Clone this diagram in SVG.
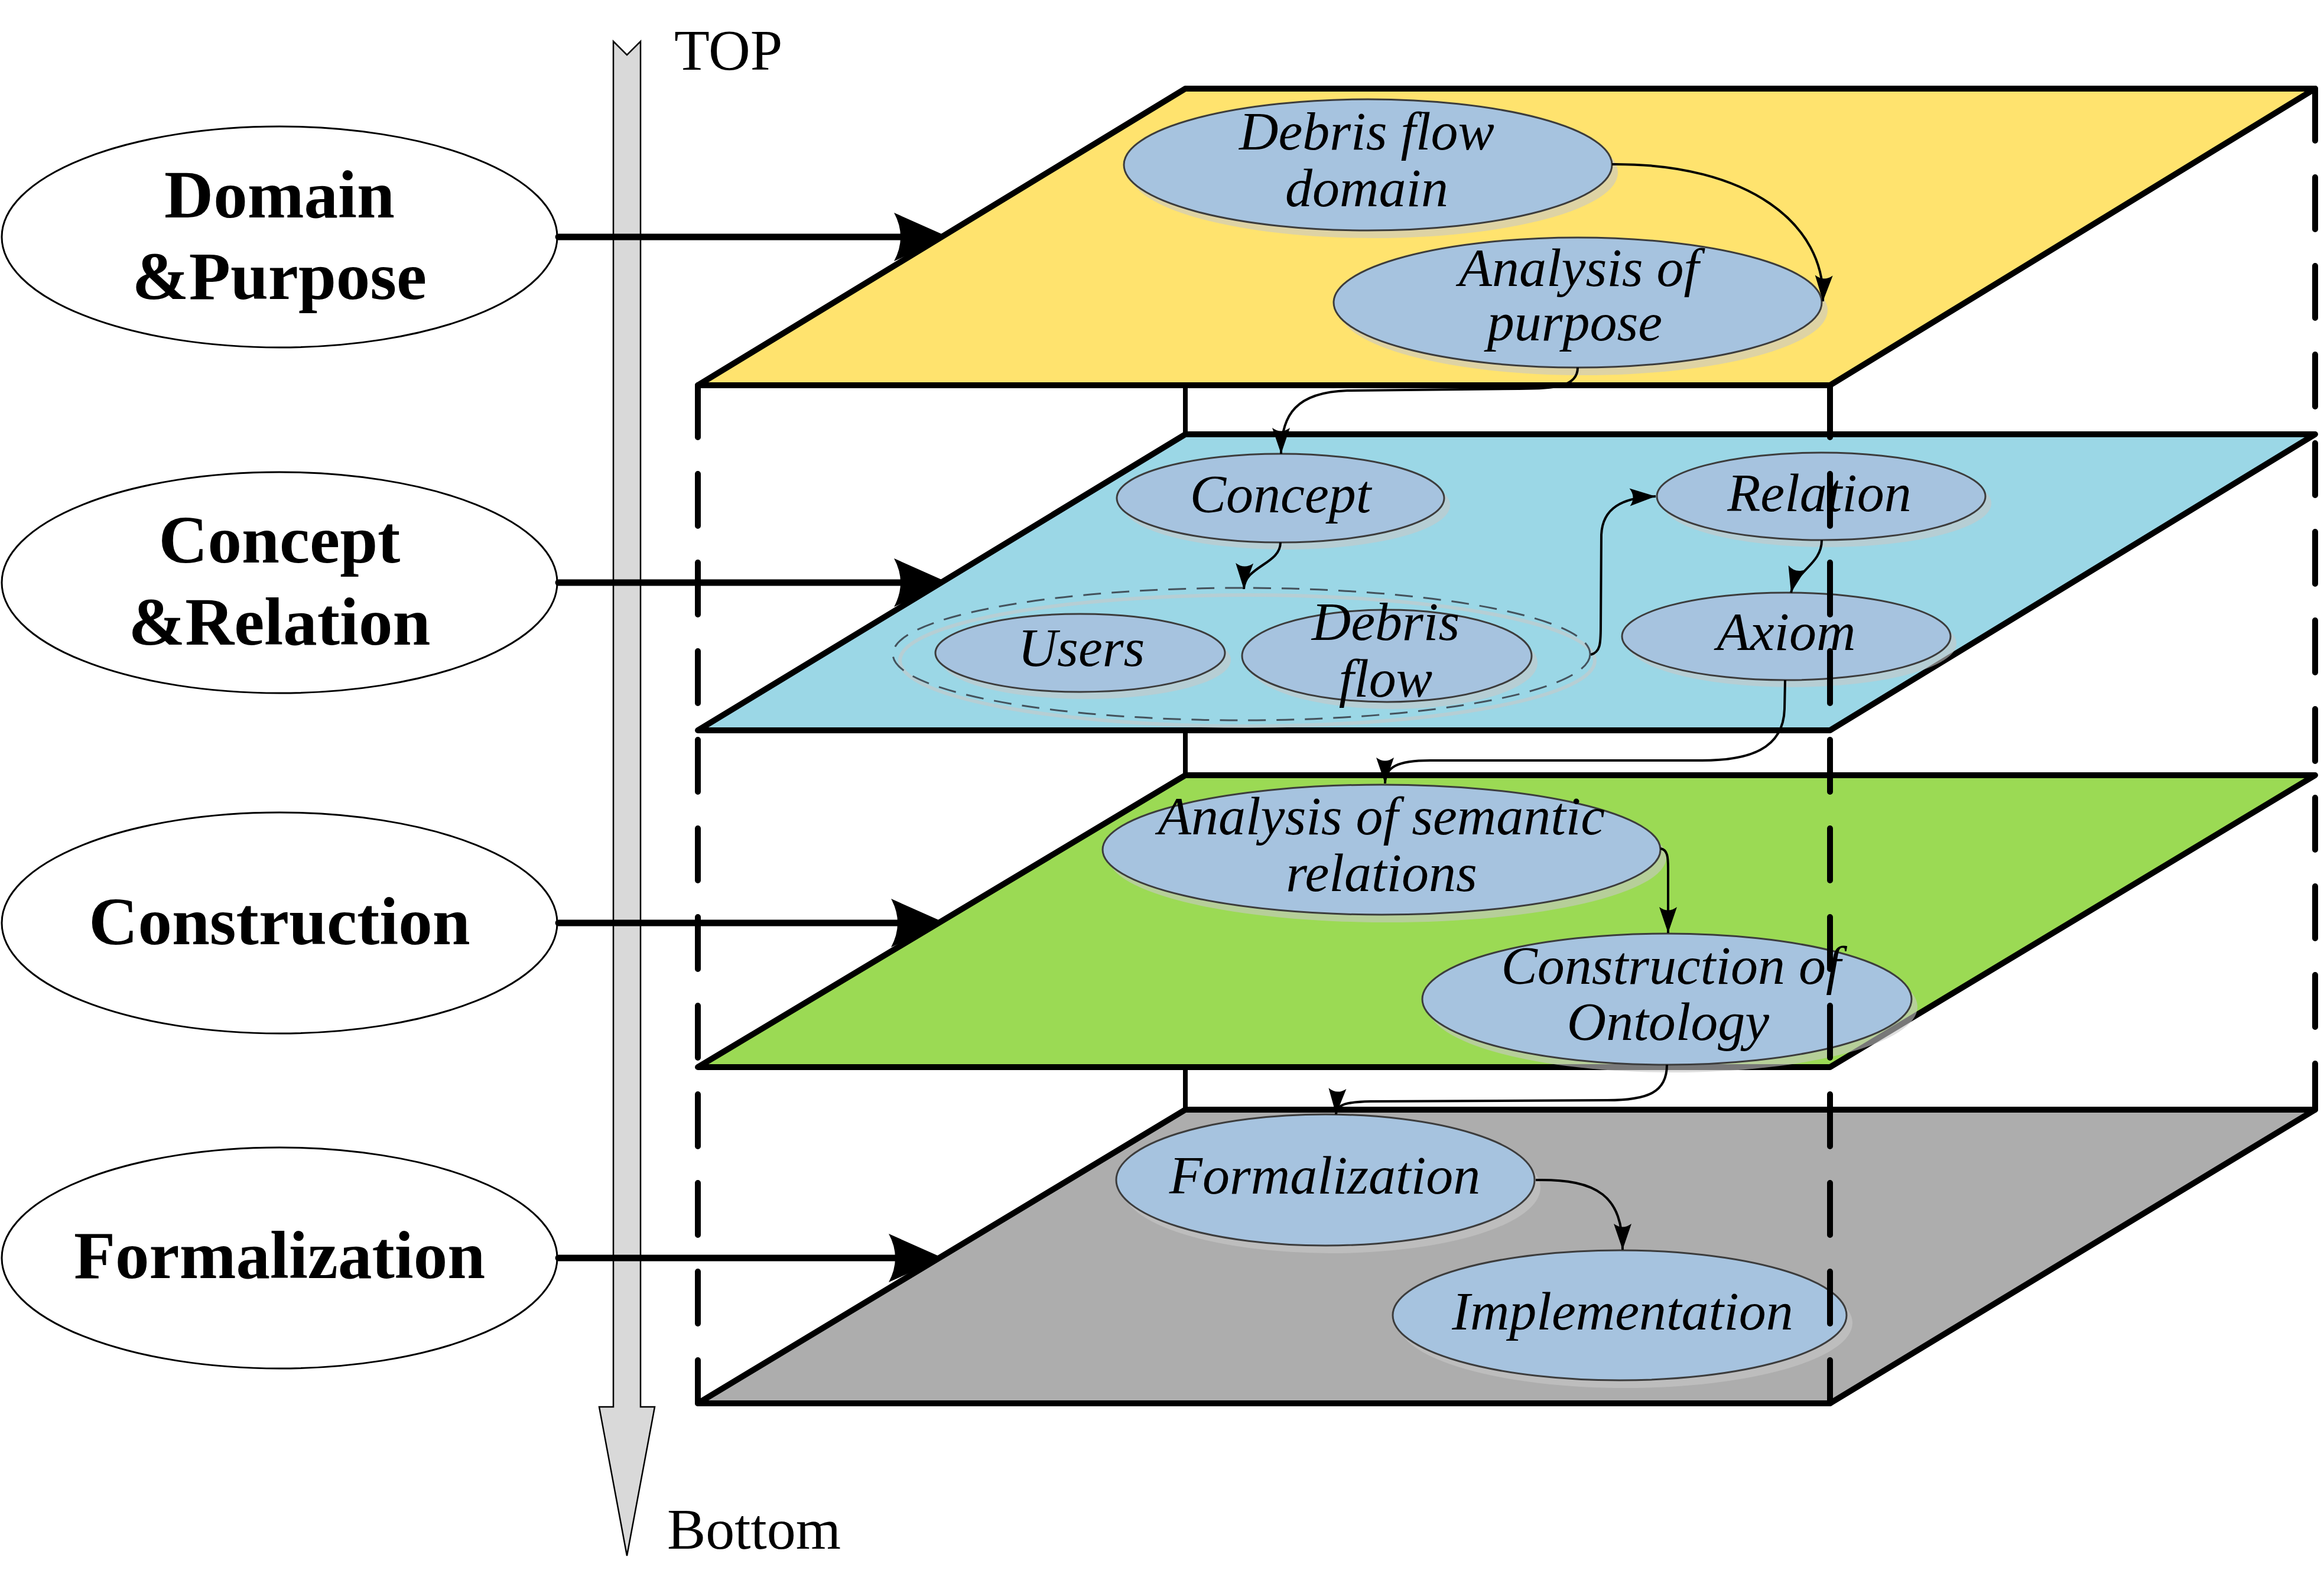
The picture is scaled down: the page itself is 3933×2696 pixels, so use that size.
<svg xmlns="http://www.w3.org/2000/svg" width="3933" height="2696" viewBox="0 0 3933 2696">
<style>
.plane{stroke:#000;stroke-width:10;stroke-linejoin:round}
.node{fill:#A6C3DF;stroke:#3C3C3C;stroke-width:3}
.shadow{fill:#C8C8C8;fill-opacity:0.6}
.nt{font-family:"Liberation Serif","Times New Roman",serif;font-style:italic;font-size:92px;text-anchor:middle;fill:#000}
.lt{font-family:"Liberation Serif","Times New Roman",serif;font-weight:bold;font-size:115px;text-anchor:middle;fill:#000}
.st{font-family:"Liberation Serif","Times New Roman",serif;font-size:98px;fill:#000}
.conn{fill:none;stroke:#000;stroke-width:4;marker-end:url(#ah)}
.dash{fill:none;stroke:#000;stroke-width:10;stroke-dasharray:88 62;stroke-linecap:round}
.big{stroke:#000;stroke-width:11;stroke-linecap:round}
.lell{fill:#fff;stroke:#000;stroke-width:3}
</style>
<defs>
<marker id="ah" viewBox="-46 -17 48 34" refX="0" refY="0" markerWidth="48" markerHeight="34" markerUnits="userSpaceOnUse" orient="auto">
<path d="M0,0 L-44,-15 Q-33,0 -44,15 Z" fill="#000"/>
</marker>
</defs>
<rect width="3933" height="2696" fill="#fff"/>

<!-- scale arrow -->
<g id="scale">
<path d="M1038,70 L1061,93 L1084,70 L1084,2381 L1108,2381 L1061,2633 L1014,2381 L1038,2381 Z" fill="#D9D9D9" stroke="#000" stroke-width="2.5"/>
<text class="st" x="1141" y="118">TOP</text>
<text class="st" x="1129" y="2621">Bottom</text>
</g>

<!-- left stage nodes -->
<g id="stage-domain">
<ellipse class="lell" cx="473" cy="401" rx="470" ry="187"/>
<text class="lt" x="473" y="368">Domain</text>
<text class="lt" x="473" y="506">&amp;Purpose</text>
</g>
<g id="stage-concept">
<ellipse class="lell" cx="473" cy="986" rx="470" ry="187"/>
<text class="lt" x="473" y="952">Concept</text>
<text class="lt" x="473" y="1091">&amp;Relation</text>
</g>
<g id="stage-construction">
<ellipse class="lell" cx="473" cy="1562" rx="470" ry="187"/>
<text class="lt" x="473" y="1598">Construction</text>
</g>
<g id="stage-formalization">
<ellipse class="lell" cx="473" cy="2129" rx="470" ry="187"/>
<text class="lt" x="473" y="2163">Formalization</text>
</g>

<!-- stage arrows -->
<g id="stage-arrows">
<line class="big" x1="945" y1="401" x2="1540" y2="401"/>
<path d="M1605,401 L1513,360 Q1535,401 1513,442 Z" fill="#000"/>
<line class="big" x1="945" y1="986" x2="1540" y2="986"/>
<path d="M1605,986 L1513,945 Q1535,986 1513,1027 Z" fill="#000"/>
<line class="big" x1="945" y1="1562" x2="1540" y2="1562"/>
<path d="M1600,1562 L1508,1521 Q1530,1562 1508,1603 Z" fill="#000"/>
<line class="big" x1="945" y1="2129" x2="1535" y2="2129"/>
<path d="M1596,2129 L1504,2088 Q1526,2129 1504,2170 Z" fill="#000"/>
</g>

<!-- box back edges -->
<g id="box-back">
<line x1="2006" y1="150" x2="2006" y2="1878" stroke="#000" stroke-width="8"/>
</g>

<!-- planes -->
<g id="plane-yellow"><polygon class="plane" points="2006,150 3918,150 3097,652 1181,652" fill="#FFE36E"/></g>
<g id="plane-blue"><polygon class="plane" points="2006,735 3918,735 3097,1236 1181,1236" fill="#9BD7E6"/></g>
<g id="plane-green"><polygon class="plane" points="2006,1312 3918,1312 3097,1806 1181,1806" fill="#9BDA54"/></g>
<g id="plane-gray"><polygon class="plane" points="2006,1878 3918,1878 3097,2375 1181,2375" fill="#ADADAD"/></g>

<!-- nodes -->
<g id="n-debris-domain">
<ellipse class="shadow" cx="2325" cy="292" rx="413" ry="111"/>
<ellipse class="node" cx="2315" cy="279" rx="413" ry="111"/>
<text class="nt" x="2313" y="253">Debris flow</text>
<text class="nt" x="2313" y="349">domain</text>
</g>
<g id="n-analysis-purpose">
<ellipse class="shadow" cx="2680" cy="525" rx="413" ry="110"/>
<ellipse class="node" cx="2670" cy="512" rx="413" ry="110"/>
<text class="nt" x="2672" y="484">Analysis of</text>
<text class="nt" x="2665" y="576">purpose</text>
</g>
<g id="n-concept">
<ellipse class="shadow" cx="2177" cy="855" rx="277" ry="75"/>
<ellipse class="node" cx="2167" cy="843" rx="277" ry="75"/>
<text class="nt" x="2167" y="867">Concept</text>
</g>
<g id="n-relation">
<ellipse class="shadow" cx="3092" cy="852" rx="278" ry="74"/>
<ellipse class="node" cx="3082" cy="840" rx="278" ry="74"/>
<text class="nt" x="3079" y="865">Relation</text>
</g>
<g id="n-axiom">
<ellipse class="shadow" cx="3033" cy="1089" rx="278" ry="74"/>
<ellipse class="node" cx="3023" cy="1077" rx="278" ry="74"/>
<text class="nt" x="3023" y="1100">Axiom</text>
</g>
<g id="n-group">
<ellipse cx="2111" cy="1118" rx="588" ry="111" fill="none" stroke="#C8C8C8" stroke-opacity="0.6" stroke-width="6"/>
<ellipse cx="2101" cy="1107" rx="590" ry="112" fill="none" stroke="#44525C" stroke-width="3" stroke-dasharray="30 18"/>
</g>
<g id="n-users">
<ellipse class="shadow" cx="1838" cy="1117" rx="245" ry="66"/>
<ellipse class="node" cx="1828" cy="1105" rx="245" ry="66"/>
<text class="nt" x="1830" y="1127">Users</text>
</g>
<g id="n-debris-flow">
<ellipse class="shadow" cx="2357" cy="1122" rx="245" ry="78"/>
<ellipse class="node" cx="2347" cy="1110" rx="245" ry="78"/>
<text class="nt" x="2345" y="1083">Debris</text>
<text class="nt" x="2345" y="1179">flow</text>
</g>
<g id="n-analysis-semantic">
<ellipse class="shadow" cx="2348" cy="1451" rx="472" ry="110"/>
<ellipse class="node" cx="2338" cy="1438" rx="472" ry="110"/>
<text class="nt" x="2338" y="1412">Analysis of semantic</text>
<text class="nt" x="2338" y="1508">relations</text>
</g>
<g id="n-construction">
<ellipse class="shadow" cx="2831" cy="1704" rx="414" ry="111"/>
<ellipse class="node" cx="2821" cy="1691" rx="414" ry="111"/>
<text class="nt" x="2828" y="1665">Construction of</text>
<text class="nt" x="2823" y="1760">Ontology</text>
</g>
<g id="n-formalization">
<ellipse class="shadow" cx="2253" cy="2010" rx="354" ry="111"/>
<ellipse class="node" cx="2243" cy="1997" rx="354" ry="111"/>
<text class="nt" x="2242" y="2020">Formalization</text>
</g>
<g id="n-implementation">
<ellipse class="shadow" cx="2751" cy="2239" rx="384" ry="110"/>
<ellipse class="node" cx="2741" cy="2226" rx="384" ry="110"/>
<text class="nt" x="2746" y="2250">Implementation</text>
</g>

<!-- connectors -->
<g id="connectors">
<path class="conn" d="M2728,278 C2960,276 3090,380 3085,510"/>
<path class="conn" d="M2670,622 C2670,655 2630,658 2570,658 L2280,661 C2195,664 2168,700 2168,768"/>
<path class="conn" d="M2167,918 C2167,955 2106,958 2105,997"/>
<path class="conn" d="M2692,1108 C2708,1104 2709,1090 2709,1060 L2710,905 C2712,860 2745,842 2802,840"/>
<path class="conn" d="M3083,914 C3083,955 3040,965 3031,1003"/>
<path class="conn" d="M3021,1151 L3020,1200 C3018,1268 2960,1287 2880,1287 L2420,1287 C2365,1287 2344,1298 2344,1326"/>
<path class="conn" d="M2810,1436 C2822,1438 2823,1450 2823,1470 L2823,1579"/>
<path class="conn" d="M2821,1802 C2821,1848 2790,1862 2720,1862 L2320,1864 C2280,1865 2262,1868 2261,1886"/>
<path class="conn" d="M2599,1997 C2705,1995 2746,2025 2746,2115"/>
</g>

<!-- box dashed edges -->
<g id="box-dashed">
<line class="dash" x1="1181" y1="652" x2="1181" y2="2375"/>
<line class="dash" x1="3097" y1="652" x2="3097" y2="2375"/>
<line class="dash" x1="3918" y1="150" x2="3918" y2="1878"/>
</g>
</svg>
